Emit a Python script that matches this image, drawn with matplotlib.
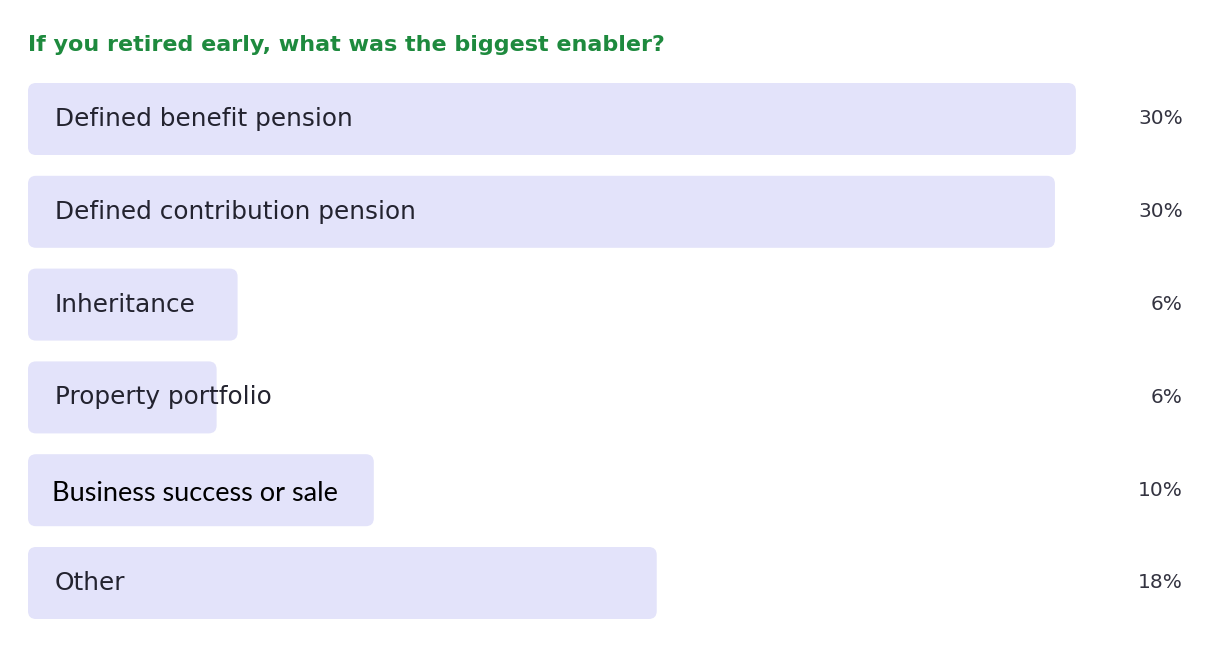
import matplotlib
matplotlib.use("Agg")
import matplotlib.pyplot as plt
from matplotlib.patches import FancyBboxPatch

title = "If you retired early, what was the biggest enabler?"
categories = ["Defined benefit pension", "Defined contribution pension", "Inheritance",
              "Property portfolio", "Business success or sale", "Other"]
bar_values = [30.0, 29.4, 6.0, 5.4, 9.9, 18.0]
pct_labels = ["30%", "30%", "6%", "6%", "10%", "18%"]

W, H = 1205, 648
fig = plt.figure(figsize=(W / 100, H / 100), dpi=100)
fig.patch.set_facecolor("white")

px_per_unit = 34.93
row_px = 92.8
left_px = 28
ax = fig.add_axes([left_px / W, 0, (W - left_px) / W, 1])
ax.set_xlim(0, (W - left_px) / px_per_unit)
ax.set_ylim((H - 119) / row_px, -119 / row_px)
ax.axis("off")

bar_color = "#E3E3FA"
bh = 72 / row_px
r_x = 8 / px_per_unit
r_y = 8 / row_px
bars = ax.barh(range(len(categories)), bar_values, height=bh, color="none")
for rect in bars:
    x, y = rect.get_x(), rect.get_y()
    w, h = rect.get_width(), rect.get_height()
    p = FancyBboxPatch((x, y), w, h,
                       boxstyle=f"round,pad=0,rounding_size={r_x}",
                       mutation_aspect=r_y / r_x,
                       facecolor=bar_color, edgecolor="none")
    ax.add_patch(p)

label_x = 27 / px_per_unit
pct_x = (1183 - left_px) / px_per_unit
for i, (cat, pct) in enumerate(zip(categories, pct_labels)):
    if cat.startswith("Business"):
        ax.text(24 / px_per_unit, i + 0.04, cat, ha="left", va="center",
                fontsize=19.5, color="black", family=["Lato", "DejaVu Sans"])
    else:
        ax.text(label_x, i, cat, ha="left", va="center",
                fontsize=17.8, color="#23232F", family=["DejaVu Sans"])
    ax.text(pct_x, i, pct, ha="right", va="center",
            fontsize=14.5, color="#333340", family=["DejaVu Sans"])

fig.text(28 / W, 1 - 45 / H, title, ha="left", va="center",
         fontsize=16, fontweight="bold", color="#1E8A3E", family=["DejaVu Sans"])

fig.savefig("out.png", dpi=100, facecolor="white")
